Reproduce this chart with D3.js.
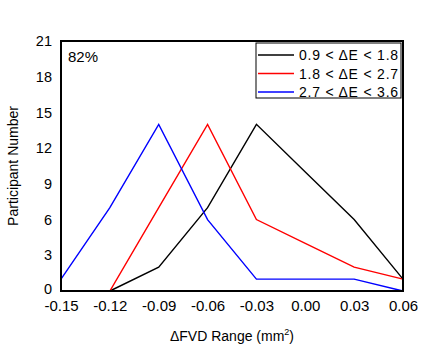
<!DOCTYPE html>
<html>
<head>
<meta charset="utf-8">
<script src="https://cdn.jsdelivr.net/npm/d3@7"></script>
<style>
  body { margin: 0; background: #fff; }
  text { font-family: "Liberation Sans", Arial, sans-serif; }
</style>
</head>
<body>
<div id="chart"></div>
<script>
const W = 422, H = 350;
const margin = { top: 41, right: 19, bottom: 59, left: 61 };
const innerW = W - margin.left - margin.right;
const innerH = H - margin.top - margin.bottom;

// data
const xTicks = [-0.15, -0.12, -0.09, -0.06, -0.03, 0.00, 0.03, 0.06];
const yTicks = [0, 3, 6, 9, 12, 15, 18, 21];
const seriesNames = ['0.9 < \u0394E < 1.8', '1.8 < \u0394E < 2.7', '2.7 < \u0394E < 3.6'];
const seriesColors = ['#000000', '#ff0000', '#0000ff'];
const blackX = [-0.12, -0.09, -0.06, -0.03, 0.00, 0.03, 0.06];
const blackY = [0, 2, 7, 14, 10, 6, 1];
const redX = [-0.15, -0.12, -0.09, -0.06, -0.03, 0.00, 0.03, 0.06];
const redY = [0, 0, 7, 14, 6, 4, 2, 1];
const blueX = [-0.15, -0.12, -0.09, -0.06, -0.03, 0.00, 0.03, 0.06];
const blueY = [1, 7, 14, 6, 1, 1, 1, 0];

const series = [
  { name: seriesNames[0], color: seriesColors[0], pts: blackX.map((x, i) => [x, blackY[i]]) },
  { name: seriesNames[1], color: seriesColors[1], pts: redX.map((x, i) => [x, redY[i]]) },
  { name: seriesNames[2], color: seriesColors[2], pts: blueX.map((x, i) => [x, blueY[i]]) },
];

const xScale = d3.scaleLinear().domain([-0.15, 0.06]).range([0, innerW]);
const yScale = d3.scaleLinear().domain([0, 21]).range([innerH, 0]);

const svg = d3.select('#chart').append('svg')
  .attr('width', W).attr('height', H);
const g = svg.append('g').attr('transform', `translate(${margin.left},${margin.top})`);

// axes (labels only, no tick marks); plain hyphen for negatives
const fmtX = (d) => d.toFixed(2);
const xAxisG = g.append('g').attr('transform', `translate(0,${innerH})`)
  .call(d3.axisBottom(xScale).tickValues(xTicks).tickSize(0).tickPadding(9).tickFormat(fmtX));
const yAxisG = g.append('g')
  .call(d3.axisLeft(yScale).tickValues(yTicks).tickSize(0).tickPadding(9).tickFormat(d3.format('d')));
[xAxisG, yAxisG].forEach((ax) => {
  ax.select('.domain').remove();
  ax.selectAll('text').attr('fill', '#000')
    .style('font-family', '"Liberation Sans", Arial, sans-serif');
});
xAxisG.selectAll('text').attr('font-size', 15);
yAxisG.selectAll('text').attr('font-size', 14.5);
// keep the "0" label clear of the x tick labels
yAxisG.selectAll('.tick').filter((d) => d === 0).select('text').attr('y', -2.5);

// lines
const line = d3.line().x((d) => xScale(d[0])).y((d) => yScale(d[1]));
series.forEach((s) => {
  g.append('path').datum(s.pts)
    .attr('d', line)
    .attr('fill', 'none')
    .attr('stroke', s.color)
    .attr('stroke-width', 1.4);
});

// frame
g.append('rect').attr('x', 0).attr('y', 0)
  .attr('width', innerW).attr('height', innerH)
  .attr('fill', 'none').attr('stroke', '#000').attr('stroke-width', 2);

// 82% label
g.append('text').attr('x', 7).attr('y', 21).attr('font-size', 15).text('82%');

// legend
const lg = g.append('g').attr('transform', `translate(${innerW - 147},2)`);
lg.append('rect').attr('x', 0).attr('y', 0).attr('width', 145).attr('height', 55)
  .attr('fill', '#fff').attr('stroke', '#000').attr('stroke-width', 1);
series.forEach((s, i) => {
  const y = 12 + i * 18.5;
  lg.append('line').attr('x1', 2).attr('x2', 38).attr('y1', y).attr('y2', y)
    .attr('stroke', s.color).attr('stroke-width', 1.4);
  lg.append('text').attr('x', 43).attr('y', y).attr('dy', '0.36em')
    .attr('font-size', 14).attr('letter-spacing', 0.8).text(s.name);
});

// axis titles
svg.append('text')
  .attr('x', margin.left + innerW / 2).attr('y', 341)
  .attr('text-anchor', 'middle').attr('font-size', 14)
  .html('\u0394FVD Range (mm<tspan dy="-6" font-size="9">2</tspan><tspan dy="6">)</tspan>');
svg.append('text')
  .attr('transform', `translate(18,${margin.top + innerH / 2}) rotate(-90)`)
  .attr('text-anchor', 'middle').attr('font-size', 14)
  .text('Participant Number');
</script>
</body>
</html>
